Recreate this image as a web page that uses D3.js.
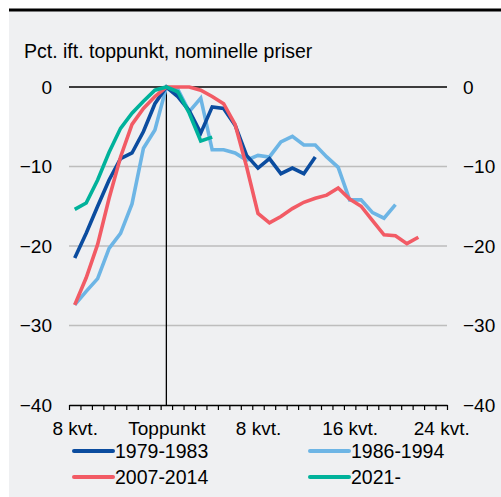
<!DOCTYPE html>
<html>
<head>
<meta charset="utf-8">
<script src="https://cdn.jsdelivr.net/npm/d3@7"></script>
<style>
  body { margin: 0; background: #fff; }
  svg text { font-family: "Liberation Sans", Arial, sans-serif; fill: #000; }
</style>
</head>
<body>
<div id="chart"></div>
<script>
// Quarters relative to the peak (0 = toppunkt)
var q1979 = d3.range(-8, 14);
var v1979 = [-21.5, -18.4, -15.0, -11.7, -9.0, -8.3, -5.6, -2.1, 0, -1.2, -3.0, -5.8, -2.5, -2.7, -4.8, -8.6, -10.2, -9.0, -10.9, -10.2, -10.9, -8.8];

var q1986 = d3.range(-8, 21);
var v1986 = [-27.4, -25.7, -24.1, -20.3, -18.4, -14.7, -7.7, -5.4, 0, -0.3, -3.1, -1.4, -7.9, -7.9, -8.3, -9.2, -8.6, -8.8, -6.9, -6.2, -7.3, -7.3, -8.8, -10.1, -14.2, -14.2, -15.8, -16.5, -14.8];

var q2007 = d3.range(-8, 23);
var v2007 = [-27.4, -24.0, -19.8, -14.0, -8.8, -4.7, -2.7, -1.2, 0, 0, 0, -0.4, -1.2, -2.1, -4.7, -10.0, -15.9, -17.1, -16.3, -15.3, -14.5, -14.0, -13.6, -12.7, -14.1, -15.0, -16.8, -18.6, -18.7, -19.7, -18.9];

var q2021 = d3.range(-8, 5);
var v2021 = [-15.4, -14.6, -11.7, -8.2, -5.2, -3.3, -1.8, -0.4, 0, -0.6, -3.3, -6.8, -6.3];

var seriesNames = ["1979-1983", "1986-1994", "2007-2014", "2021-"];
var seriesColors = ["#0b4c9f", "#6db5e5", "#f25b65", "#00b29b"];

var yTicks = [0, -10, -20, -30, -40];
var xLabelValues = [-8, 0, 8, 16, 24];
var xLabelTexts = ["8 kvt.", "Toppunkt", "8 kvt.", "16 kvt.", "24 kvt."];
var title = "Pct. ift. toppunkt, nominelle priser";

var width = 501, height = 497;
var plot = { left: 69, right: 447, top: 87, bottom: 405 };

var svg = d3.select("#chart").append("svg")
  .attr("width", width)
  .attr("height", height);

// background panel and top rule
svg.append("rect")
  .attr("x", 9).attr("y", 10)
  .attr("width", width - 9).attr("height", height - 10)
  .attr("fill", "#eff0f2");
svg.append("line")
  .attr("x1", 9).attr("x2", width)
  .attr("y1", 10).attr("y2", 10)
  .attr("stroke", "#000").attr("stroke-width", 3);

// scales: quarters -8..24 as bands, ticks on band edges
var x = d3.scaleLinear().domain([-8.5, 24.5]).range([plot.left, plot.right]);
var y = d3.scaleLinear().domain([-40, 0]).range([plot.bottom, plot.top]);

// gridlines
svg.append("g")
  .selectAll("line")
  .data(yTicks.filter(function (d) { return d !== 0 && d !== -40; }))
  .enter().append("line")
  .attr("x1", plot.left).attr("x2", plot.right)
  .attr("y1", function (d) { return y(d); })
  .attr("y2", function (d) { return y(d); })
  .attr("stroke", "#bdbdbd").attr("stroke-width", 1.3);

// zero line
svg.append("line")
  .attr("x1", plot.left).attr("x2", plot.right)
  .attr("y1", y(0)).attr("y2", y(0))
  .attr("stroke", "#000").attr("stroke-width", 1.3);

// peak line
svg.append("line")
  .attr("x1", x(0)).attr("x2", x(0))
  .attr("y1", y(0)).attr("y2", y(-40))
  .attr("stroke", "#000").attr("stroke-width", 1.3);

// x axis with quarter ticks
var xAxis = svg.append("g")
  .attr("transform", "translate(0," + y(-40) + ")")
  .call(d3.axisBottom(x)
    .tickValues(d3.range(-8.5, 25, 1))
    .tickFormat("")
    .tickSize(5)
    .tickSizeOuter(0));
xAxis.select(".domain").attr("stroke", "#000").attr("stroke-width", 1.3);
xAxis.selectAll(".tick line").attr("stroke", "#000").attr("stroke-width", 1.2);

// x labels
var xLab = svg.append("g")
  .attr("transform", "translate(0," + y(-40) + ")")
  .call(d3.axisBottom(x)
    .tickValues(xLabelValues)
    .tickFormat(function (d, i) { return xLabelTexts[i]; })
    .tickSize(0)
    .tickPadding(17));
xLab.select(".domain").remove();

// y axes left and right
var yLeft = svg.append("g")
  .attr("transform", "translate(" + (plot.left - 17) + ",0)")
  .call(d3.axisLeft(y).tickValues(yTicks).tickSize(0).tickPadding(0));
yLeft.select(".domain").remove();

var yRight = svg.append("g")
  .attr("transform", "translate(" + (plot.right + 16) + ",0)")
  .call(d3.axisRight(y).tickValues(yTicks).tickSize(0).tickPadding(0));
yRight.select(".domain").remove();

svg.selectAll(".tick text").style("font-size", "19px").attr("fill", "#000");

// title
svg.append("text")
  .attr("x", 24).attr("y", 58)
  .style("font-size", "19.5px")
  .text(title);

// lines
var line = d3.line()
  .x(function (d) { return x(d[0]); })
  .y(function (d) { return y(d[1]); });

var series = [
  { q: q1979, v: v1979, i: 0 },
  { q: q1986, v: v1986, i: 1 },
  { q: q2007, v: v2007, i: 2 },
  { q: q2021, v: v2021, i: 3 }
];
var drawOrder = [1, 0, 2, 3];

drawOrder.forEach(function (k) {
  var s = series[k];
  svg.append("path")
    .datum(d3.zip(s.q, s.v))
    .attr("fill", "none")
    .attr("stroke", seriesColors[s.i])
    .attr("stroke-width", 3.6)
    .attr("d", line);
});

// legend
var legend = svg.selectAll(".legend")
  .data(seriesNames)
  .enter().append("g")
  .attr("class", "legend")
  .attr("transform", function (d, i) {
    return "translate(" + (i % 2 === 0 ? 74 : 310) + "," + (i < 2 ? 451 : 477) + ")";
  });

legend.append("line")
  .attr("x1", 0).attr("x2", 39)
  .attr("stroke", function (d, i) { return seriesColors[i]; })
  .attr("stroke-width", 4)
  .attr("stroke-linecap", "round");

legend.append("text")
  .attr("x", 41)
  .attr("dy", "0.35em")
  .style("font-size", "19.5px")
  .text(function (d) { return d; });
</script>
</body>
</html>
